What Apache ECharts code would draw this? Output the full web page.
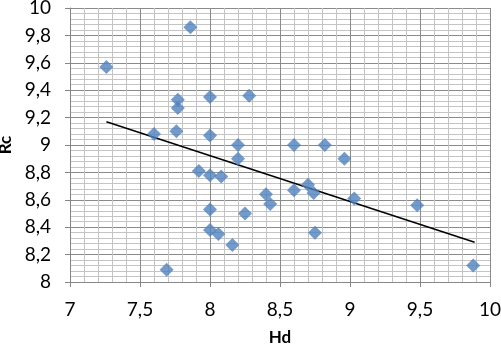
<!DOCTYPE html>
<html><head><meta charset="utf-8">
<script src="https://cdn.jsdelivr.net/npm/echarts@6/dist/echarts.min.js"></script>
<style>html,body{margin:0;padding:0;background:#fff}#c{width:501px;height:347px}</style>
</head><body><div id="c"></div>
<script>
var hd = [7.26,7.86,7.77,7.77,7.76,7.60,8.00,8.00,8.28,8.20,8.20,7.92,8.00,8.08,8.00,8.00,8.06,8.16,7.69,8.25,8.60,8.82,8.96,8.40,8.43,8.60,8.70,8.74,9.03,9.48,8.75,9.88];
var rc = [9.57,9.86,9.33,9.27,9.10,9.08,9.35,9.07,9.36,9.00,8.90,8.81,8.78,8.77,8.53,8.38,8.35,8.27,8.09,8.50,9.00,9.00,8.90,8.64,8.57,8.67,8.71,8.65,8.61,8.56,8.36,8.12];
var trendX = [7.26, 9.89];
var trendY = [9.17, 8.29];
var xTicks = ['7','7,5','8','8,5','9','9,5','10'];
var yTicks = ['8','8,2','8,4','8,6','8,8','9','9,2','9,4','9,6','9,8','10'];

var pts = hd.map(function(v,i){return [v, rc[i]];});
var tr = trendX.map(function(v,i){return [v, trendY[i]];});
function fmt(v){ return String(Math.round(v*10)/10).replace('.', ','); }
var chart = echarts.init(document.getElementById('c'));
chart.setOption({
  animation:false,
  textStyle:{fontFamily:'Lato'},
  grid:{left:70,right:11,top:8,bottom:65,containLabel:false,outerBoundsMode:'none'},
  xAxis:{type:'value',min:7,max:10,interval:0.5,
    name:'Hd',nameLocation:'middle',nameGap:47,
    nameTextStyle:{fontSize:17,fontWeight:'bold',color:'#000',fontFamily:'Lato'},
    axisLine:{show:true,lineStyle:{color:'#868686',width:1}},
    axisTick:{show:true,length:5,lineStyle:{color:'#868686'}},
    axisLabel:{fontSize:19,color:'#000',margin:18,formatter:fmt},
    splitLine:{show:true,lineStyle:{color:'#8a8a8a',width:1}},
    minorTick:{show:false,splitNumber:5},
    minorSplitLine:{show:true,lineStyle:{color:'#c4c4c4',width:1}}
  },
  yAxis:{type:'value',min:8,max:10,interval:0.2,
    name:'Rc',nameLocation:'middle',nameGap:40,nameRotate:90,
    nameTextStyle:{fontSize:17,fontWeight:'bold',color:'#000',fontFamily:'Lato'},
    axisLine:{show:true,lineStyle:{color:'#868686',width:1}},
    axisTick:{show:true,length:5,lineStyle:{color:'#868686'}},
    axisLabel:{fontSize:19,color:'#000',margin:19,formatter:fmt},
    splitLine:{show:true,lineStyle:{color:'#8a8a8a',width:1}},
    minorTick:{show:false,splitNumber:5},
    minorSplitLine:{show:true,lineStyle:{color:'#c4c4c4',width:1}}
  },
  series:[
    {type:'line',data:tr,symbol:'none',lineStyle:{color:'#000',width:1.5},z:3},
    {type:'scatter',data:pts,symbol:'diamond',symbolSize:14,itemStyle:{color:'#4F81BD'},z:4}
  ]
});
</script></body></html>
